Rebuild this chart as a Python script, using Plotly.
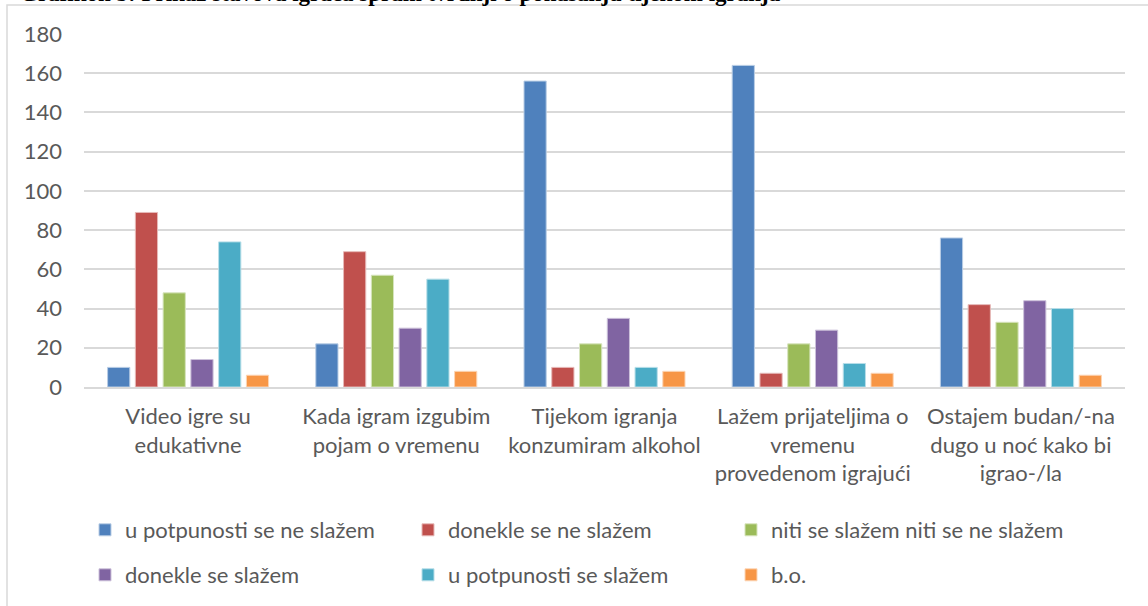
import plotly.graph_objects as go

categories = [
    "Video igre su<br>edukativne",
    "Kada igram izgubim<br>pojam o vremenu",
    "Tijekom igranja<br>konzumiram alkohol",
    "Lažem prijateljima o<br>vremenu<br>provedenom igrajući",
    "Ostajem budan/-na<br>dugo u noć kako bi<br>igrao-/la",
]
series_names = [
    "u potpunosti se ne slažem",
    "donekle se ne slažem",
    "niti se slažem niti se ne slažem",
    "donekle se slažem",
    "u potpunosti se slažem",
    "b.o.",
]
v_potp_ne = [10, 22, 156, 164, 76]
v_donekle_ne = [89, 69, 10, 7, 42]
v_niti = [48, 57, 22, 22, 33]
v_donekle_da = [14, 30, 35, 29, 44]
v_potp_da = [74, 55, 10, 12, 40]
v_bo = [6, 8, 8, 7, 6]
series_values = [v_potp_ne, v_donekle_ne, v_niti, v_donekle_da, v_potp_da, v_bo]
colors = ["#4F81BD", "#C0504D", "#9BBB59", "#8064A2", "#4BACC6", "#F79646"]
edge = ["#B9CDE5", "#E6B9B8", "#D7E4BD", "#CCC1DA", "#B7DEE8", "#FCD5B5"]
tick_vals = [0, 20, 40, 60, 80, 100, 120, 140, 160, 180]
title_text = "Grafikon 5: Prikaz stavova igrača spram tvrdnji o ponašanju tijekom igranja"

FONT = "Lato"
FS = 22
W, H = 1148, 606
ml, mr, mt, mb = 84, 23, 34, 219
pw, ph = W - ml - mr, H - mt - mb


def px_x(x):
    return (x - ml) / pw


def px_y(y):
    return (H - mb - y) / ph


fig = go.Figure()
for i, (name, vals, c, e) in enumerate(zip(series_names, series_values, colors, edge)):
    fig.add_trace(go.Bar(x=categories, y=vals, name=name,
                         legend="legend" if i < 3 else "legend2",
                         legendwidth=340 if i == 2 else 278,
                         marker=dict(color=c, line=dict(color=e, width=1))))

leg_common = dict(orientation="h", xanchor="left", yanchor="middle",
                  entrywidthmode="pixels", itemwidth=30,
                  bgcolor="rgba(0,0,0,0)",
                  font=dict(size=FS, color="#595959", family=FONT))

fig.update_layout(
    width=W, height=H,
    margin=dict(l=ml, r=mr, t=mt, b=mb, autoexpand=False),
    paper_bgcolor="white", plot_bgcolor="white",
    barmode="group", bargap=0.2, bargroupgap=0.2,
    font=dict(family=FONT, color="#595959", size=FS),
    xaxis=dict(showgrid=False, showline=True, linecolor="#D9D9D9", linewidth=1.5,
               ticks="", ticklabelstandoff=9,
               tickfont=dict(size=FS, color="#595959", family=FONT)),
    yaxis=dict(range=[0, 180], tickvals=tick_vals, showgrid=True, gridcolor="#D9D9D9",
               gridwidth=1.5, zeroline=False, showline=False, ticks="",
               ticklabelstandoff=21,
               tickfont=dict(size=FS, color="#595959", family=FONT)),
    showlegend=True,
    legend=dict(x=px_x(85), y=px_y(530), **leg_common),
    legend2=dict(x=px_x(85), y=px_y(575), **leg_common),
    shapes=[dict(type="rect", xref="paper", yref="paper",
                 x0=px_x(7), x1=px_x(W + 5),
                 y0=px_y(H + 5), y1=px_y(5),
                 line=dict(color="#D9D9D9", width=1.5), fillcolor="rgba(0,0,0,0)", layer="below")],
    annotations=[dict(text=title_text, xref="paper", yref="paper",
                      x=px_x(18), xanchor="left",
                      y=px_y(8), yanchor="bottom", showarrow=False,
                      font=dict(family="Liberation Serif", size=23, color="black", weight="bold"))],
)
fig.write_html("out.html", config={"displayModeBar": False},
               post_script="document.body.style.margin='0';")
